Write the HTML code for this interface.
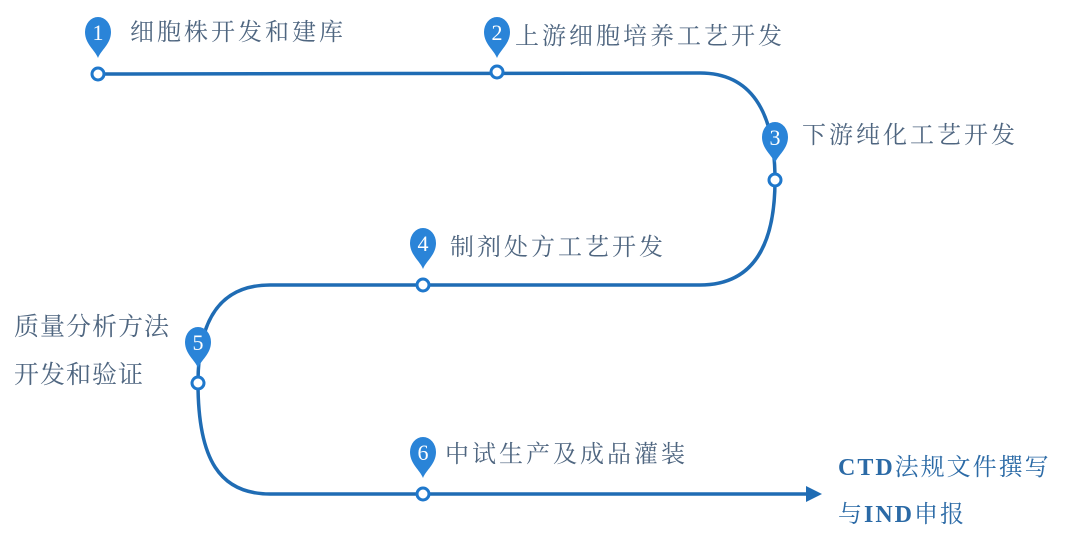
<!DOCTYPE html>
<html><head><meta charset="utf-8"><style>
html,body{margin:0;padding:0;background:#fff;}
body{width:1080px;height:537px;overflow:hidden;position:relative;}
.t{position:absolute;font-family:"Liberation Serif","Noto Serif CJK SC",serif;color:#4f6680;font-size:24px;letter-spacing:3px;white-space:nowrap;line-height:1;}
.c{color:#2b6aa6;}
</style></head><body>
<svg width="1080" height="537" style="position:absolute;left:0;top:0">
<defs>
<g id="pin"><path d="M0,26 C-3,18 -13,12 -13,0 A13,15 0 1 1 13,0 C13,12 3,18 0,26 Z" fill="#2a84d8"/></g>
</defs>
<path d="M98,74 L700,73 C750,73 775,110 775,180 C775,250 750,285 700,285 L270,285 C220,285 198,320 198,383 C198,460 220,494 270,494 L808,494" fill="none" stroke="#1f6cb4" stroke-width="3.5"/>
<polygon points="806,486 822,494 806,502" fill="#1f6cb4"/>
<g font-family="Liberation Serif,serif" font-size="22" fill="#fff" text-anchor="middle">
<use href="#pin" x="98" y="32"/><text x="98" y="40">1</text>
<use href="#pin" x="497" y="32"/><text x="497" y="40">2</text>
<use href="#pin" x="775" y="137"/><text x="775" y="145">3</text>
<use href="#pin" x="423" y="243"/><text x="423" y="251">4</text>
<use href="#pin" x="198" y="342"/><text x="198" y="350">5</text>
<use href="#pin" x="423" y="452"/><text x="423" y="460">6</text>
</g>
<g fill="#fff" stroke="#1f78cc" stroke-width="3">
<circle cx="98" cy="74" r="6"/><circle cx="497" cy="72" r="6"/><circle cx="775" cy="180" r="6"/>
<circle cx="423" cy="285" r="6"/><circle cx="198" cy="383" r="6"/><circle cx="423" cy="494" r="6"/>
</g>
</svg>
<div class="t" style="left:130px;top:21px">细胞株开发和建库</div>
<div class="t" style="left:515px;top:25px">上游细胞培养工艺开发</div>
<div class="t" style="left:802px;top:124px;font-size:24px;letter-spacing:3px">下游纯化工艺开发</div>
<div class="t" style="left:450px;top:236px">制剂处方工艺开发</div>
<div class="t" style="left:14px;top:315px;font-size:25px;letter-spacing:1px">质量分析方法</div>
<div class="t" style="left:14px;top:363px;font-size:25px;letter-spacing:1px">开发和验证</div>
<div class="t" style="left:445px;top:443px">中试生产及成品灌装</div>
<div class="t c" style="left:838px;top:456px;letter-spacing:2px"><b>CTD</b>法规文件撰写</div>
<div class="t c" style="left:838px;top:503px;letter-spacing:2px">与<b>IND</b>申报</div>
</body></html>
